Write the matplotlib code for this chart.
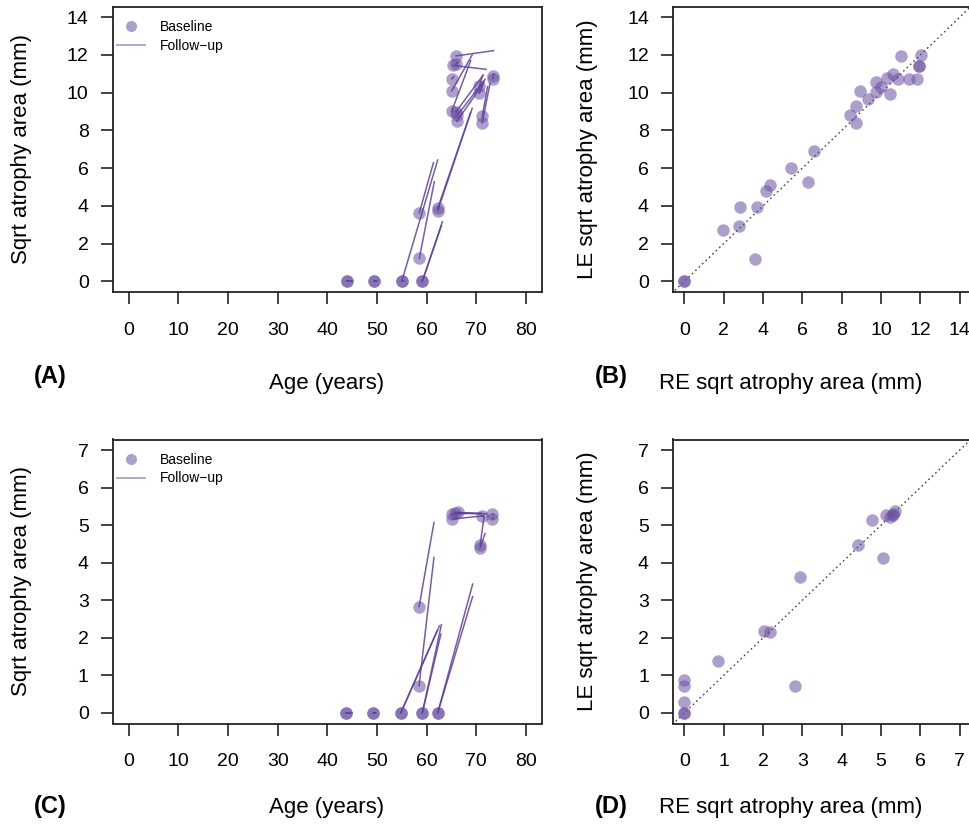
import matplotlib
matplotlib.use("Agg")
import matplotlib.pyplot as plt
from matplotlib.lines import Line2D

plt.rcParams['font.family'] = ['Liberation Sans', 'DejaVu Sans']

# panel A: age / sqrt atrophy area at baseline and follow-up
a_age0 = [43.9, 43.9, 49.4, 49.4, 55.0, 55.0, 59.15, 59.15, 58.55, 58.55, 62.25, 62.25,
          65.95, 65.3, 65.95, 65.1, 65.1, 65.1, 65.95, 66.2, 66.1,
          70.65, 70.65, 71.25, 71.25, 73.35, 73.35]
a_val0 = [0, 0, 0, 0, 0, 0, 0, 0, 1.22, 3.64, 3.87, 3.73,
          11.95, 11.45, 11.52, 10.74, 10.1, 9.03, 8.99, 8.8, 8.48,
          10.36, 9.97, 8.77, 8.41, 10.9, 10.75]
a_age1 = [45.0, 44.8, 49.9, 50.0, 62.25, 55.5, 63.2, 63.0, 61.57, 61.4, 69.2, 68.9,
          73.5, 72.0, 66.4, 65.5, 69.2, 68.9, 71.45, 71.8, 71.2,
          71.3, 71.6, 72.3, 72.8, 73.6, 73.5]
a_val1 = [0, 0, 0, 0, 6.43, 0, 3.16, 2.95, 5.28, 6.29, 9.17, 8.95,
          12.23, 11.24, 11.6, 10.85, 12.0, 11.7, 10.94, 10.71, 10.4,
          10.9, 10.6, 10.32, 10.5, 11.0, 10.8]

# panel B: right eye vs left eye
b_re = [0, 0, 1.98, 2.78, 2.81, 3.6, 3.71, 4.13, 4.35, 5.42, 6.28, 6.57,
        8.43, 8.73, 8.75, 8.95, 9.36, 9.72, 9.73, 10.02, 10.28, 10.44,
        10.62, 10.87, 11.04, 11.43, 11.83, 11.93, 11.93, 12.02]
b_le = [0, 0, 2.74, 2.93, 3.94, 1.17, 3.92, 4.80, 5.09, 5.99, 5.27, 6.91,
        8.84, 8.38, 9.28, 10.09, 9.65, 10.05, 10.58, 10.30, 10.80, 9.95,
        10.97, 10.73, 11.93, 10.73, 10.71, 11.42, 11.42, 11.98]

# panel C
c_age0 = [43.7, 43.7, 49.3, 49.3, 54.8, 54.8, 59.15, 59.15, 62.25, 62.25, 58.5, 58.5,
          65.1, 65.2, 65.75, 66.3, 71.1, 73.3, 73.3, 70.8, 70.8]
c_val0 = [0, 0, 0, 0, 0, 0, 0, 0, 0, 0, 2.83, 0.73,
          5.30, 5.16, 5.33, 5.34, 5.24, 5.29, 5.16, 4.47, 4.40]
c_age1 = [44.9, 44.5, 49.8, 49.7, 62.2, 62.6, 63.0, 62.9, 69.3, 69.3, 61.5, 61.5,
          71.0, 71.5, 70.9, 72.0, 71.4, 73.4, 73.5, 71.6, 71.8]
c_val1 = [0, 0, 0, 0, 2.2, 2.32, 2.35, 2.1, 3.43, 3.10, 5.07, 4.14,
          5.32, 5.25, 5.30, 5.30, 5.25, 5.30, 5.20, 5.22, 4.78]

# panel D
d_re = [0, 0, 0, 0, 0, 0.85, 2.02, 2.17, 2.81, 2.95, 4.41, 4.78, 5.05,
        5.12, 5.23, 5.31, 5.36, 5.3]
d_le = [0, 0, 0.29, 0.71, 0.87, 1.38, 2.19, 2.15, 0.71, 3.61, 4.47, 5.15, 4.13,
        5.26, 5.23, 5.31, 5.37, 5.28]

W, H = 969, 824
pt_col = '#6a51a3'
ln_col = '#5e3f9e'


def add_ax(l, r, t, b):
    ax = fig.add_axes([l / W, 1 - b / H, (r - l) / W, (b - t) / H])
    for s in ax.spines.values():
        s.set_linewidth(1.3)
        s.set_color('#222222')
    ax.tick_params(length=8.5, width=1.2, color='#222222', labelsize=14)
    ax.tick_params(axis='x', pad=13)
    ax.tick_params(axis='y', pad=9)
    return ax


def traj(ax, age0, val0, age1, val1):
    for x0, y0, x1, y1 in zip(age0, val0, age1, val1):
        ax.plot([x0, x1], [y0, y1], color=ln_col, lw=1.1, alpha=0.85, zorder=3)
    ax.plot(age0, val0, 'o', color=pt_col, alpha=0.55, ms=9, mec='none', zorder=2)
    handles = [Line2D([], [], marker='o', ls='none', color=pt_col, alpha=0.55, ms=8, mec='none'),
               Line2D([], [], color=pt_col, alpha=0.55, lw=1.3)]
    ax.legend(handles, ['Baseline', 'Follow\u2212up'], loc='upper left',
              bbox_to_anchor=(0.0, 1.0 - 9 / 285), frameon=False, fontsize=10,
              handlelength=2.0, handletextpad=1.1, borderpad=0.3,
              borderaxespad=0.0, labelspacing=0.35)
    ax.set_xticks(range(0, 81, 10))


def scat(ax, re, le, top):
    ax.plot([-1, top + 1], [-1, top + 1], color='#444444', lw=1.0,
            ls=(0, (1.2, 2.2)), zorder=1)
    ax.plot(re, le, 'o', color=pt_col, alpha=0.55, ms=9, mec='none', zorder=2)


fig = plt.figure(figsize=(9.69, 8.24), dpi=100)

axA = add_ax(113, 541.6, 6.7, 291.9)
traj(axA, a_age0, a_val0, a_age1, a_val1)
axA.set_xlim(-3.2, 83.2)
axA.set_ylim(-0.56, 14.56)
axA.set_yticks(range(0, 15, 2))

axB = add_ax(673.3, 970.7, 6.7, 291.9)
scat(axB, b_re, b_le, 14)
axB.set_xlim(-0.56, 14.56)
axB.set_ylim(-0.56, 14.56)
axB.set_xticks(range(0, 15, 2))
axB.set_yticks(range(0, 15, 2))

axC = add_ax(113, 541.6, 439.5, 723.5)
traj(axC, c_age0, c_val0, c_age1, c_val1)
axC.set_xlim(-3.2, 83.2)
axC.set_ylim(-0.28, 7.28)
axC.set_yticks(range(0, 8))

axD = add_ax(673.3, 970.7, 439.5, 723.5)
scat(axD, d_re, d_le, 7)
axD.set_xlim(-0.28, 7.28)
axD.set_ylim(-0.28, 7.28)
axD.set_xticks(range(0, 8))
axD.set_yticks(range(0, 8))


def ftext(x, y, s, **kw):
    fig.text(x / W, 1 - y / H, s, ha='center', va='center', **kw)


ftext(22, 149, 'Sqrt atrophy area (mm)', fontsize=16, rotation=90)
ftext(588, 149, 'LE sqrt atrophy area (mm)', fontsize=16, rotation=90)
ftext(22, 581, 'Sqrt atrophy area (mm)', fontsize=16, rotation=90)
ftext(588, 581, 'LE sqrt atrophy area (mm)', fontsize=16, rotation=90)
ftext(327, 383, 'Age (years)', fontsize=16)
ftext(791, 383, 'RE sqrt atrophy area (mm)', fontsize=16)
ftext(327, 807, 'Age (years)', fontsize=16)
ftext(791, 807, 'RE sqrt atrophy area (mm)', fontsize=16)
ftext(50, 376, '(A)', fontsize=17, fontweight='bold')
ftext(611, 376, '(B)', fontsize=17, fontweight='bold')
ftext(50, 807, '(C)', fontsize=17, fontweight='bold')
ftext(611, 807, '(D)', fontsize=17, fontweight='bold')

fig.savefig('out.png', dpi=100)
